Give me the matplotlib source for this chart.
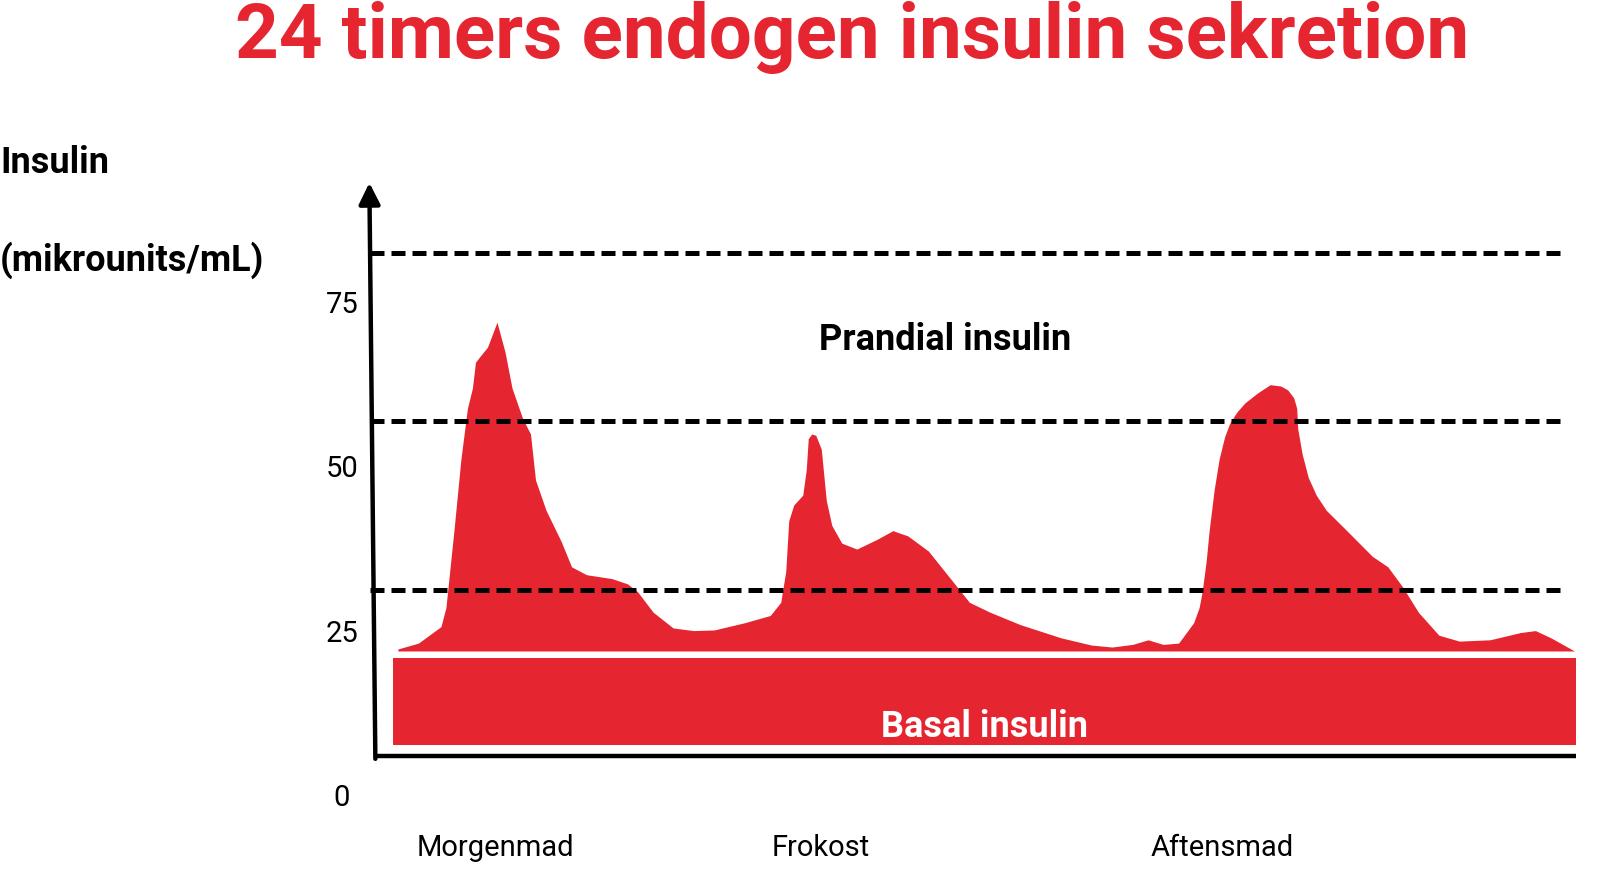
import numpy as np
import matplotlib.pyplot as plt

# timer (0-24) og insulin (mikrounits/mL)
hours = [0.45, 0.86, 1.31, 1.41, 1.57, 1.71, 1.84, 1.94, 2.00, 2.08, 2.24, 2.43,
         2.59, 2.73, 2.94, 3.10, 3.20, 3.41, 3.71, 3.92, 4.22, 4.73, 5.04, 5.24,
         5.55, 5.95, 6.36, 6.77, 7.38, 7.89, 8.10, 8.20, 8.26, 8.36, 8.54, 8.61,
         8.65, 8.72, 8.80, 8.91, 9.01, 9.12, 9.32, 9.62, 10.03, 10.34, 10.64, 11.05,
         11.46, 11.87, 12.28, 12.89, 13.70, 14.31, 14.72, 15.13, 15.44, 15.74,
         16.05, 16.35, 16.46, 16.52, 16.60, 16.66, 16.76, 16.86, 16.97, 17.07,
         17.21, 17.37, 17.62, 17.88, 18.09, 18.23, 18.35, 18.41, 18.43, 18.52,
         18.64, 18.80, 19.00, 19.41, 19.92, 20.23, 20.53, 20.84, 21.25, 21.66,
         22.27, 22.88, 23.18, 23.49, 23.96]
insulin = [22.7, 23.6, 26.1, 29.0, 40.7, 51.6, 59.3, 62.4, 66.3, 67.1, 68.6, 72.4,
           67.9, 62.4, 57.8, 55.4, 48.4, 43.8, 39.1, 35.2, 34.0, 33.4, 32.6, 31.4,
           28.3, 25.9, 25.5, 25.6, 26.7, 27.8, 29.8, 34.5, 42.2, 44.6, 46.1, 50.0,
           54.7, 55.4, 55.2, 53.1, 45.3, 41.5, 38.8, 37.9, 39.4, 40.7, 39.9, 37.6,
           33.7, 29.8, 28.3, 26.4, 24.4, 23.3, 23.0, 23.4, 24.1, 23.4,
           23.6, 26.7, 29.0, 31.4, 36.0, 40.7, 46.9, 51.6, 55.0, 57.0,
           58.7, 60.1, 61.6, 62.9, 62.7, 62.1, 60.9, 59.3, 56.2, 52.3,
           48.8, 46.1, 43.8, 40.7, 36.8, 35.2, 32.1, 28.3, 24.8, 23.9,
           24.1, 25.2, 25.5, 24.4, 22.4]
prandial_base = 22.4

basal_start, basal_end = 0.35, 24.0
basal_low, basal_high = 8.1, 21.3

levels = [31.7, 57.3, 82.9]
yticks = [0, 25, 50, 75]
meals = ['Morgenmad', 'Frokost', 'Aftensmad']
meal_hours = [2.39, 8.89, 16.93]

RED = '#e52530'
plt.rcParams['font.family'] = ['Roboto', 'DejaVu Sans']

fig = plt.figure(figsize=(16, 8.81), dpi=100)
ax = fig.add_axes([0, 0, 1, 1])
ax.set_xlim(-7.50, 24.47)
ax.set_ylim(-12.58, 121.4)
ax.axis('off')

# basal insulin
ax.fill_between([basal_start, basal_end], basal_low, basal_high, color=RED, lw=0)
ax.text((basal_start + basal_end) / 2, 10.9, 'Basal insulin', color='white',
        fontsize=26, fontweight='bold', ha='center', va='center')

# prandial insulin
ax.fill_between(hours, prandial_base, insulin, color=RED, lw=0)

# stiplede niveauer
for lv in levels:
    ax.plot([-0.1, 23.8], [lv, lv], color='black', lw=3.6, dashes=(2.8, 1.4),
            solid_capstyle='butt', dash_capstyle='butt')

# akser
ax.plot([0, 24.0], [6.4, 6.4], color='black', lw=3.2, solid_capstyle='butt')
ax.annotate('', xy=(-0.12, 93.6), xytext=(0, 6.0),
            arrowprops=dict(arrowstyle='-|>', lw=3.2, color='black',
                            mutation_scale=32, shrinkA=0, shrinkB=0))

for t in yticks:
    ax.text(-0.67, t, str(t), fontsize=21, ha='center', va='center')
for m, h in zip(meals, meal_hours):
    ax.text(h, -7.6, m, fontsize=21, ha='center', va='center')

ax.text(11.38, 69.7, 'Prandial insulin', fontsize=26, fontweight='bold',
        ha='center', va='center')
ax.text(-7.50, 96.6, 'Insulin', fontsize=26, fontweight='bold', ha='left', va='center')
ax.text(-7.50, 81.8, '(mikrounits/mL)', fontsize=26, fontweight='bold',
        ha='left', va='center')
ax.text(9.52, 115.7, '24 timers endogen insulin sekretion', color=RED,
        fontsize=55, fontweight='bold', ha='center', va='center')

fig.savefig('out.png', dpi=100)
